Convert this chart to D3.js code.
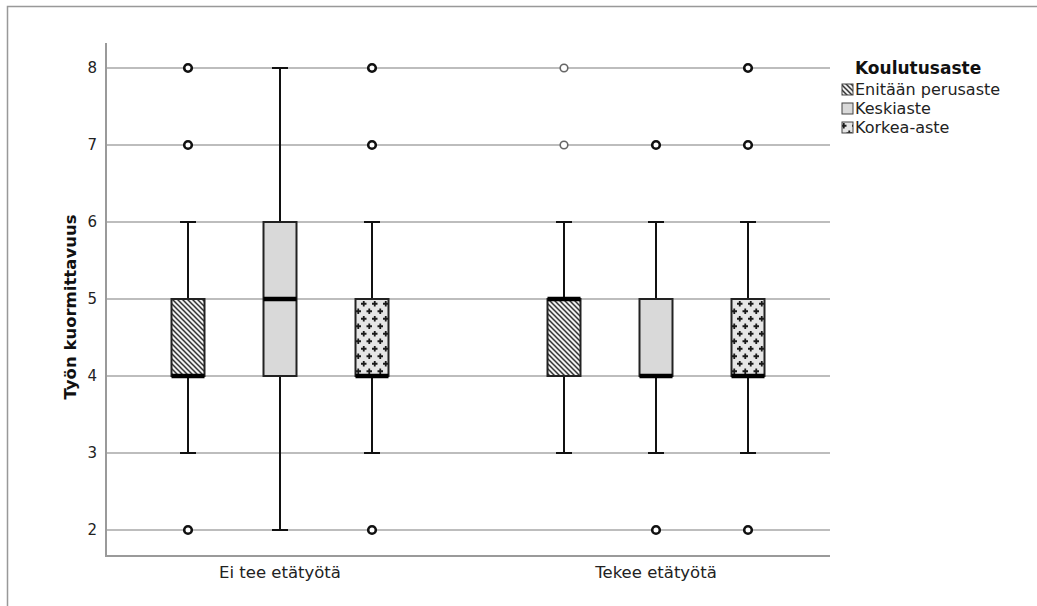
<!DOCTYPE html>
<html>
<head>
<meta charset="utf-8">
<script src="https://cdn.jsdelivr.net/npm/d3@7"></script>
<style>
  body { margin: 0; background: #fff; }
  svg { display: block; font-family: "DejaVu Sans", sans-serif; }
</style>
</head>
<body>
<svg id="chart" width="1037" height="606"></svg>
<script>
const groups = ["Ei tee etätyötä", "Tekee etätyötä"];
const levels = ["Enitään perusaste", "Keskiaste", "Korkea-aste"];
const yTicks = [2, 3, 4, 5, 6, 7, 8];

// [group, level, whiskerLow, q1, median, q3, whiskerHigh]
const boxStats = [
    ["Ei tee etätyötä", "Enitään perusaste", 3, 4, 4, 5, 6],
    ["Ei tee etätyötä", "Keskiaste", 2, 4, 5, 6, 8],
    ["Ei tee etätyötä", "Korkea-aste", 3, 4, 4, 5, 6],
    ["Tekee etätyötä", "Enitään perusaste", 3, 4, 5, 5, 6],
    ["Tekee etätyötä", "Keskiaste", 3, 4, 4, 5, 6],
    ["Tekee etätyötä", "Korkea-aste", 3, 4, 4, 5, 6]
];

// [group, level, value, faint]
const outliers = [
    ["Ei tee etätyötä", "Enitään perusaste", 2, 0],
    ["Ei tee etätyötä", "Enitään perusaste", 7, 0],
    ["Ei tee etätyötä", "Enitään perusaste", 8, 0],
    ["Ei tee etätyötä", "Korkea-aste", 2, 0],
    ["Ei tee etätyötä", "Korkea-aste", 7, 0],
    ["Ei tee etätyötä", "Korkea-aste", 8, 0],
    ["Tekee etätyötä", "Enitään perusaste", 7, 1],
    ["Tekee etätyötä", "Enitään perusaste", 8, 1],
    ["Tekee etätyötä", "Keskiaste", 2, 0],
    ["Tekee etätyötä", "Keskiaste", 7, 0],
    ["Tekee etätyötä", "Korkea-aste", 2, 0],
    ["Tekee etätyötä", "Korkea-aste", 7, 0],
    ["Tekee etätyötä", "Korkea-aste", 8, 0]
];

const svg = d3.select("#chart");
const fills = {};

/* PATTERNS
 */
const defs = svg.append("defs");

const hatch = defs.append("pattern")
      .attr("id", "hatch")
      .attr("patternUnits", "userSpaceOnUse")
      .attr("width", 5).attr("height", 5);
hatch.append("rect").attr("width", 5).attr("height", 5).attr("fill", "#f0f0f0");
hatch.append("path")
    .attr("d", "M0,0 L5,5 M-2.5,2.5 L2.5,7.5 M2.5,-2.5 L7.5,2.5")
    .attr("stroke", "#333").attr("stroke-width", 1.5);

const plus = defs.append("pattern")
      .attr("id", "plus")
      .attr("patternUnits", "userSpaceOnUse")
      .attr("width", 11).attr("height", 15);
plus.append("rect").attr("width", 11).attr("height", 15).attr("fill", "#e6e6e6");
plus.append("path")
    .attr("d", "M2.75,1 V6.5 M0,3.75 H5.5 M8.25,8.5 V14 M5.5,11.25 H11")
    .attr("stroke", "#1a1a1a").attr("stroke-width", 1.8);

fills[levels[0]] = "url(#hatch)";
fills[levels[1]] = "#d9d9d9";
fills[levels[2]] = "url(#plus)";

/* FRAME
 */
svg.append("path")
    .attr("d", "M7.5,606 V6.5 H1037")
    .attr("fill", "none").attr("stroke", "#999").attr("stroke-width", 1.5);

/* SCALES
 */
const plot = { left: 106, right: 830, top: 43, bottom: 556 };

const y = d3.scaleLinear()
      .domain([2, 8])
      .range([530, 68]);

const x0 = d3.scalePoint()
      .domain(groups)
      .range([280, 656]);

const x1 = d3.scalePoint()
      .domain(levels)
      .range([-92, 92]);

const boxW = 33;
const capW = 16;

function cx(g, l) {
    return x0(g) + x1(l);
}

/* GRID + AXES
 */
svg.append("g")
    .selectAll("line")
    .data(yTicks)
    .enter().append("line")
    .attr("x1", plot.left).attr("x2", plot.right)
    .attr("y1", (d) => y(d)).attr("y2", (d) => y(d))
    .attr("stroke", "#bdbdbd").attr("stroke-width", 2);

const yAxis = svg.append("g")
      .attr("transform", `translate(${plot.left},0)`)
      .call(d3.axisLeft(y).tickValues(yTicks).tickSize(0).tickPadding(9).tickFormat(d3.format("d")));
yAxis.select(".domain").remove();
yAxis.selectAll("text")
    .attr("font-size", 15).attr("fill", "#222")
    .attr("font-family", "DejaVu Sans, sans-serif");

svg.append("line")
    .attr("x1", plot.left).attr("x2", plot.left)
    .attr("y1", plot.top).attr("y2", plot.bottom)
    .attr("stroke", "#9a9a9a").attr("stroke-width", 2);
svg.append("line")
    .attr("x1", plot.left - 1).attr("x2", plot.right)
    .attr("y1", plot.bottom).attr("y2", plot.bottom)
    .attr("stroke", "#9a9a9a").attr("stroke-width", 2);

svg.append("g")
    .selectAll("text")
    .data(groups)
    .enter().append("text")
    .attr("x", (d) => cx(d, levels[1]))
    .attr("y", 578)
    .attr("text-anchor", "middle")
    .attr("font-size", 16.5).attr("fill", "#222")
    .text((d) => d);

svg.append("text")
    .attr("transform", `translate(76,${(y(2) + y(8)) / 2 + 8}) rotate(-90)`)
    .attr("text-anchor", "middle")
    .attr("font-size", 16.5).attr("font-weight", "bold").attr("fill", "#111")
    .text("Työn kuormittavuus");

/* BOXES
 */
const box = svg.append("g")
      .selectAll("g")
      .data(boxStats)
      .enter().append("g")
      .attr("transform", (d) => `translate(${cx(d[0], d[1])},0)`);

box.append("line")
    .attr("y1", (d) => y(d[2])).attr("y2", (d) => y(d[3]))
    .attr("stroke", "#111").attr("stroke-width", 2);
box.append("line")
    .attr("y1", (d) => y(d[5])).attr("y2", (d) => y(d[6]))
    .attr("stroke", "#111").attr("stroke-width", 2);
box.selectAll(".cap")
    .data((d) => [d[2], d[6]])
    .enter().append("line")
    .attr("class", "cap")
    .attr("x1", -capW / 2).attr("x2", capW / 2)
    .attr("y1", (v) => y(v)).attr("y2", (v) => y(v))
    .attr("stroke", "#111").attr("stroke-width", 2);
box.append("rect")
    .attr("x", -boxW / 2).attr("width", boxW)
    .attr("y", (d) => y(d[5])).attr("height", (d) => y(d[3]) - y(d[5]))
    .attr("fill", (d) => fills[d[1]])
    .attr("stroke", "#222").attr("stroke-width", 2);
box.append("line")
    .attr("x1", -boxW / 2).attr("x2", boxW / 2)
    .attr("y1", (d) => y(d[4])).attr("y2", (d) => y(d[4]))
    .attr("stroke", "#000").attr("stroke-width", 4.5);

svg.append("g")
    .selectAll("circle")
    .data(outliers)
    .enter().append("circle")
    .attr("cx", (d) => cx(d[0], d[1]))
    .attr("cy", (d) => y(d[2]))
    .attr("r", 3.8)
    .attr("fill", "#fff")
    .attr("stroke", (d) => d[3] ? "#666" : "#111")
    .attr("stroke-width", (d) => d[3] ? 1.6 : 2.6);

/* LEGEND
 */
const legend = svg.append("g").attr("transform", "translate(841,0)");
legend.append("text")
    .attr("x", 14).attr("y", 74)
    .attr("font-size", 17).attr("font-weight", "bold").attr("fill", "#111")
    .text("Koulutusaste");
const item = legend.selectAll(".item")
      .data(levels)
      .enter().append("g")
      .attr("class", "item")
      .attr("transform", (d, i) => `translate(0,${84 + i * 19})`);
item.append("rect")
    .attr("x", 1).attr("y", 0).attr("width", 11).attr("height", 11)
    .attr("fill", (d) => fills[d])
    .attr("stroke", "#444").attr("stroke-width", 1);
item.append("text")
    .attr("x", 14).attr("y", 11)
    .attr("font-size", 16).attr("fill", "#222")
    .text((d) => d);
</script>
</body>
</html>
